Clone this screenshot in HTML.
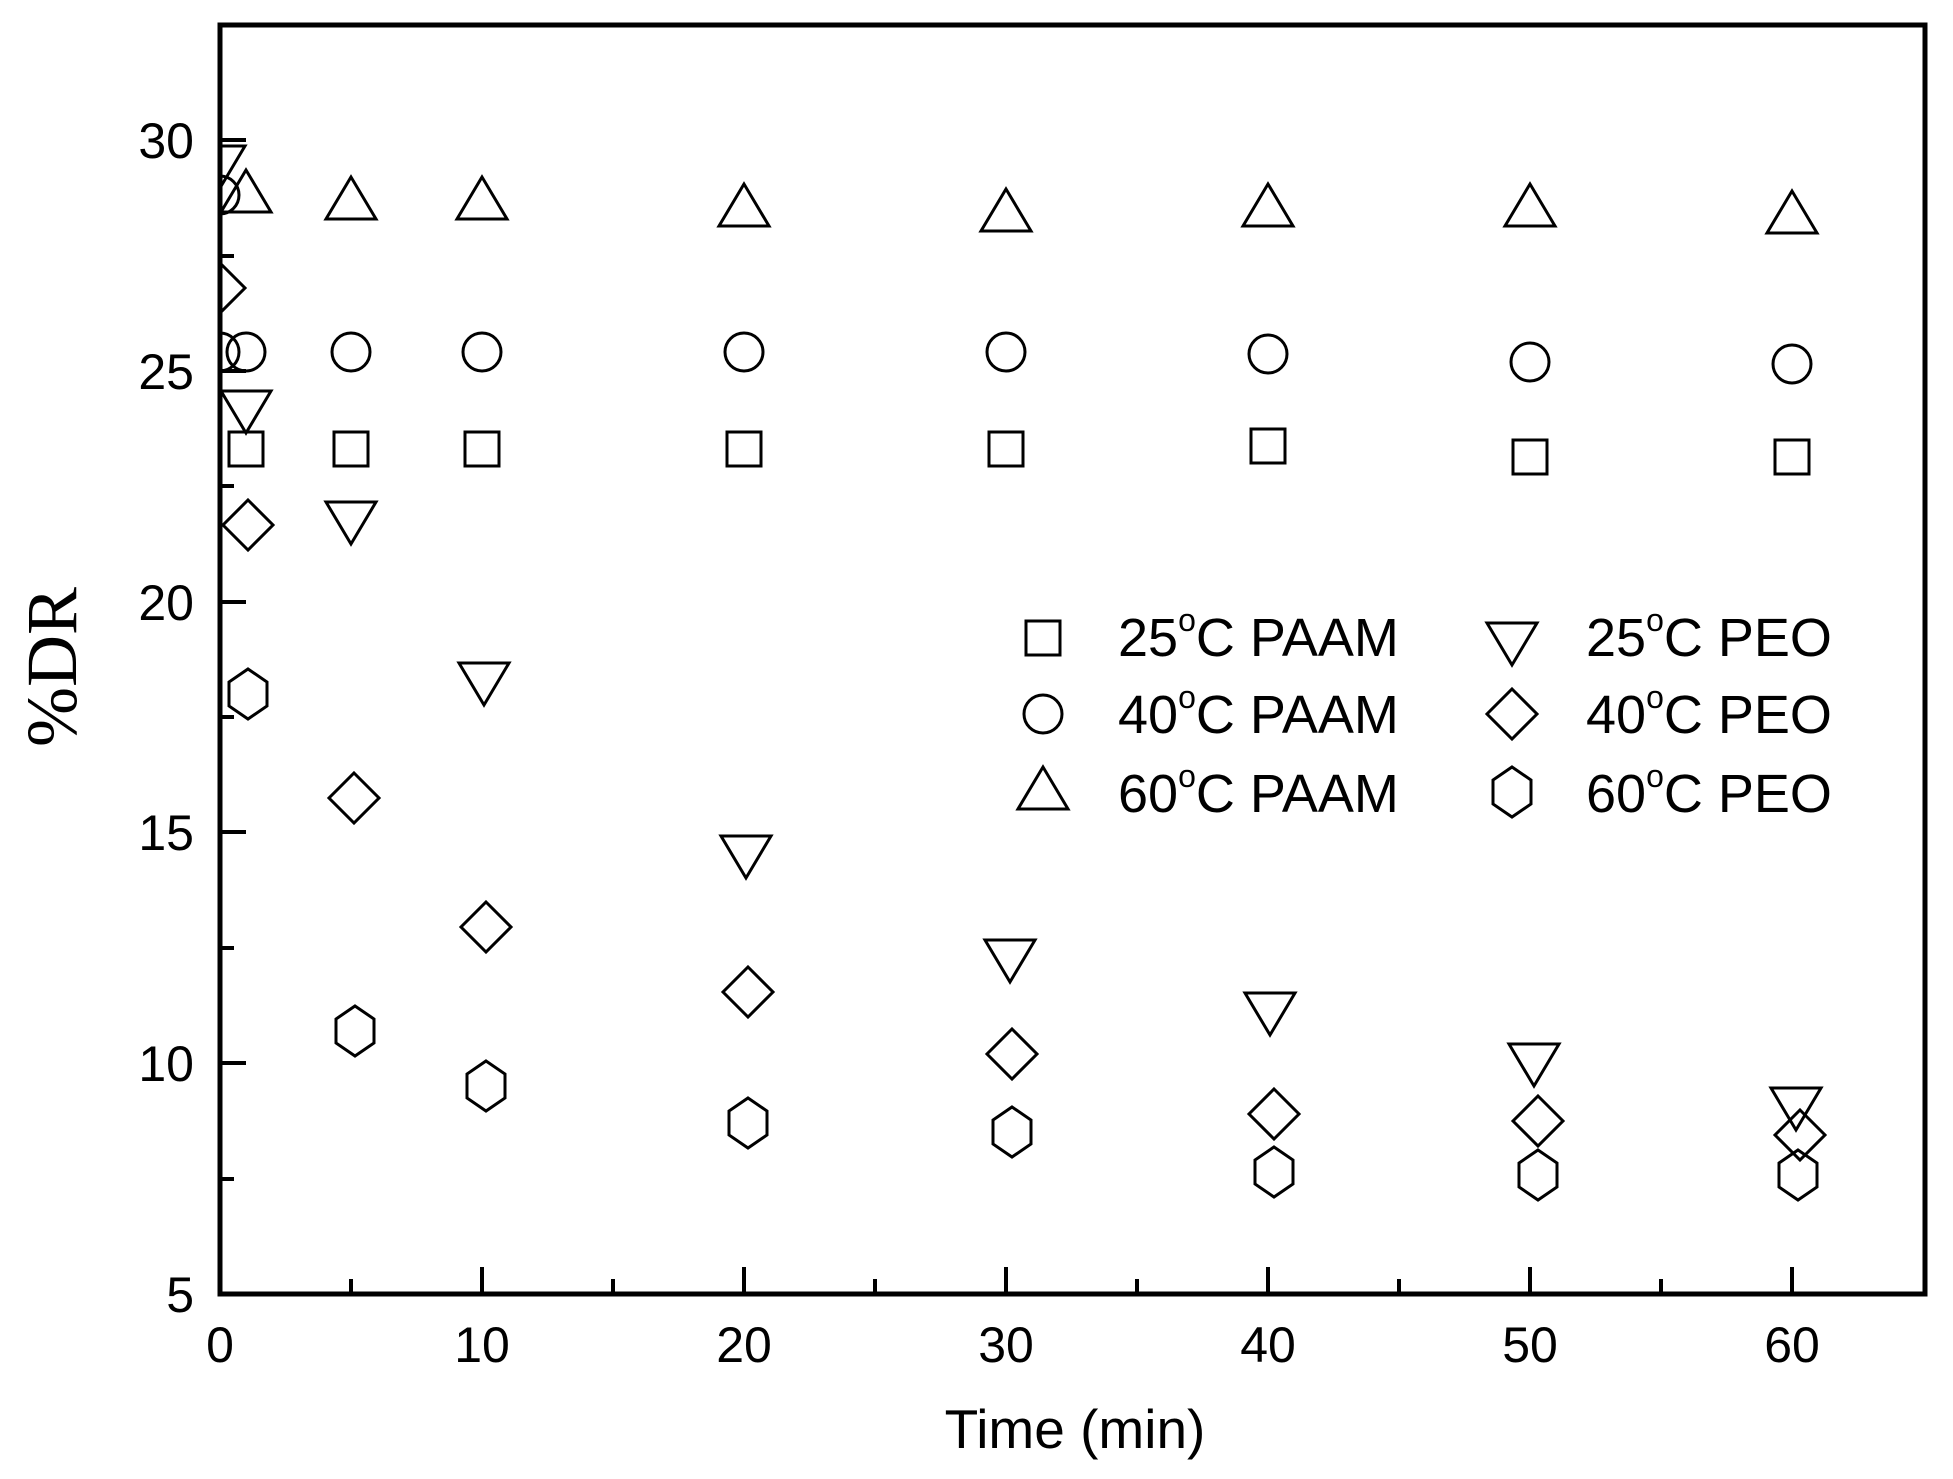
<!DOCTYPE html>
<html><head><meta charset="utf-8"><style>body{margin:0;background:#fff}svg{display:block}</style></head>
<body>
<svg width="1953" height="1479" viewBox="0 0 1953 1479" xmlns="http://www.w3.org/2000/svg">
<defs>
<clipPath id="c"><rect x="220" y="25" width="1705" height="1269"/></clipPath>
<g id="sq"><rect x="-17" y="-17" width="34" height="34"/></g>
<g id="ci"><circle r="19"/></g>
<g id="tu"><polygon points="0,-25 -25,17 25,17"/></g>
<g id="td"><polygon points="0,25 -25,-17 25,-17"/></g>
<g id="di"><polygon points="0,-25 25,0 0,25 -25,0"/></g>
<g id="hx"><polygon points="0,-25 19,-12 19,12 0,25 -19,12 -19,-12"/></g>
</defs>
<g fill="none" stroke="#000" stroke-width="3" clip-path="url(#c)">
<use href="#tu" x="246" y="195"/><use href="#tu" x="351" y="202"/><use href="#tu" x="482" y="202"/><use href="#tu" x="744" y="209"/><use href="#tu" x="1006" y="214"/><use href="#tu" x="1268" y="209"/><use href="#tu" x="1530" y="209"/><use href="#tu" x="1792" y="216"/>
<use href="#ci" x="220" y="195"/><use href="#ci" x="220" y="352"/><use href="#ci" x="246" y="352"/><use href="#ci" x="351" y="352"/><use href="#ci" x="482" y="352"/><use href="#ci" x="744" y="352"/><use href="#ci" x="1006" y="352"/><use href="#ci" x="1268" y="354"/><use href="#ci" x="1530" y="362"/><use href="#ci" x="1792" y="364"/>
<use href="#sq" x="246" y="449"/><use href="#sq" x="351" y="449"/><use href="#sq" x="482" y="449"/><use href="#sq" x="744" y="449"/><use href="#sq" x="1006" y="449"/><use href="#sq" x="1268" y="446"/><use href="#sq" x="1530" y="457"/><use href="#sq" x="1792" y="457"/>
<use href="#td" x="220" y="163"/><use href="#td" x="246" y="408"/><use href="#td" x="351" y="519"/><use href="#td" x="484" y="680"/><use href="#td" x="746" y="853"/><use href="#td" x="1010" y="957"/><use href="#td" x="1270" y="1010"/><use href="#td" x="1534" y="1061"/><use href="#td" x="1796" y="1105"/>
<use href="#di" x="220" y="288"/><use href="#di" x="248" y="525"/><use href="#di" x="354" y="798"/><use href="#di" x="486" y="927"/><use href="#di" x="748" y="992"/><use href="#di" x="1012" y="1054"/><use href="#di" x="1274" y="1114"/><use href="#di" x="1538" y="1121"/><use href="#di" x="1800" y="1135"/>
<use href="#hx" x="248" y="694"/><use href="#hx" x="355" y="1031"/><use href="#hx" x="486" y="1086"/><use href="#hx" x="748" y="1123"/><use href="#hx" x="1012" y="1132"/><use href="#hx" x="1274" y="1172"/><use href="#hx" x="1538" y="1175"/><use href="#hx" x="1798" y="1175"/>
</g>
<rect x="220" y="25" width="1705" height="1269" fill="none" stroke="#000" stroke-width="5"/>
<g stroke="#000" stroke-width="4">
<path d="M482 1294v-27M744 1294v-27M1006 1294v-27M1268 1294v-27M1530 1294v-27M1792 1294v-27"/>
<path d="M351 1294v-15M613 1294v-15M875 1294v-15M1137 1294v-15M1399 1294v-15M1661 1294v-15"/>
<path d="M220 1063h26M220 832h26M220 602h26M220 371h26M220 140h26"/>
<path d="M220 1179h14M220 948h14M220 717h14M220 486h14M220 256h14M220 25h14"/>
</g>
<g font-family="Liberation Sans, sans-serif" font-size="50" fill="#000">
<g text-anchor="end">
<text x="194" y="1312">5</text><text x="194" y="1081">10</text><text x="194" y="850">15</text><text x="194" y="620">20</text><text x="194" y="389">25</text><text x="194" y="158">30</text>
</g>
<g text-anchor="middle">
<text x="220" y="1362">0</text><text x="482" y="1362">10</text><text x="744" y="1362">20</text><text x="1006" y="1362">30</text><text x="1268" y="1362">40</text><text x="1530" y="1362">50</text><text x="1792" y="1362">60</text>
<text x="1075" y="1448" font-size="55">Time (min)</text>
</g>
</g>
<text transform="translate(76,667) rotate(-90)" text-anchor="middle" font-family="Liberation Serif, serif" font-size="72">%DR</text>
<g fill="none" stroke="#000" stroke-width="3">
<use href="#sq" x="1043" y="638"/><use href="#ci" x="1043" y="714"/><use href="#tu" x="1043" y="792"/>
<use href="#td" x="1512" y="640"/><use href="#di" x="1512" y="714"/><use href="#hx" x="1512" y="792"/>
</g>
<g font-family="Liberation Sans, sans-serif" font-size="54" fill="#000">
<text x="1118" y="656">25<tspan font-size="32" dy="-25">o</tspan><tspan dy="25">C PAAM</tspan></text>
<text x="1118" y="733">40<tspan font-size="32" dy="-25">o</tspan><tspan dy="25">C PAAM</tspan></text>
<text x="1118" y="812">60<tspan font-size="32" dy="-25">o</tspan><tspan dy="25">C PAAM</tspan></text>
<text x="1586" y="656">25<tspan font-size="32" dy="-25">o</tspan><tspan dy="25">C PEO</tspan></text>
<text x="1586" y="733">40<tspan font-size="32" dy="-25">o</tspan><tspan dy="25">C PEO</tspan></text>
<text x="1586" y="812">60<tspan font-size="32" dy="-25">o</tspan><tspan dy="25">C PEO</tspan></text>
</g>
</svg>
</body></html>
